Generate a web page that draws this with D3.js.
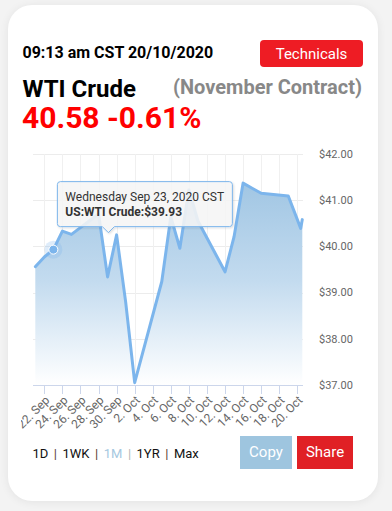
<!DOCTYPE html>
<html>
<head>
<meta charset="utf-8">
<script src="https://cdn.jsdelivr.net/npm/d3@7"></script>
<style>
  html, body { margin: 0; padding: 0; }
  body { width: 392px; height: 511px; background: #f3f3f3; position: relative; overflow: hidden; font-family: Roboto, "Noto Sans", sans-serif; }
  .card { position: absolute; left: 8px; top: 5px; width: 370px; height: 496px; background: #fff; border-radius: 24px; box-shadow: 0 1px 10px rgba(0,0,0,0.07); }
  svg { position: absolute; left: 0; top: 0; }
</style>
</head>
<body>
<div class="card"></div>
<svg id="chart" width="392" height="511"></svg>
<script>
// WTI crude, November contract — daily settlements plus intraday points for 20 Oct
const dates = [
  "2020-09-21T00:00Z", "2020-09-22T00:00Z", "2020-09-23T00:00Z", "2020-09-24T00:00Z",
  "2020-09-25T00:00Z", "2020-09-28T00:00Z", "2020-09-29T00:00Z", "2020-09-30T00:00Z",
  "2020-10-01T00:00Z", "2020-10-02T00:00Z", "2020-10-05T00:00Z", "2020-10-06T00:00Z",
  "2020-10-07T00:00Z", "2020-10-08T00:00Z", "2020-10-09T00:00Z", "2020-10-12T00:00Z",
  "2020-10-13T00:00Z", "2020-10-14T00:00Z", "2020-10-15T00:00Z", "2020-10-16T00:00Z",
  "2020-10-19T00:00Z", "2020-10-20T09:00Z", "2020-10-20T13:15Z"
];
const prices = [
  39.56, 39.77, 39.93, 40.33,
  40.26, 40.70, 39.34, 40.25,
  38.80, 37.05, 39.24, 40.64,
  39.96, 41.22, 40.55, 39.45,
  40.21, 41.37, 41.26, 41.15,
  41.09, 40.39, 40.58
];
const xTickDates = [
  "2020-09-22", "2020-09-24", "2020-09-26", "2020-09-28", "2020-09-30",
  "2020-10-02", "2020-10-04", "2020-10-06", "2020-10-08", "2020-10-10",
  "2020-10-12", "2020-10-14", "2020-10-16", "2020-10-18", "2020-10-20"
];
const yTicks = [37, 38, 39, 40, 41, 42];
const ranges = ["1D", "1WK", "1M", "1YR", "Max"];
const activeRange = "1M";
const hoverIndex = 2;
const hoverDay = "Wednesday Sep 23, 2020 CST";
const seriesName = "US:WTI Crude";

const data = dates.map((d, i) => ({ t: new Date(d), v: prices[i] }));
const svg = d3.select("#chart");

// ---- header ----
svg.append("text").attr("x", 22.5).attr("y", 57.5)
  .attr("font-size", 16).attr("font-weight", 700).attr("fill", "#000")
  .text("09:13 am CST 20/10/2020");

svg.append("rect").attr("x", 260).attr("y", 40).attr("width", 103).attr("height", 27)
  .attr("rx", 4).attr("fill", "#ee1c24");
svg.append("text").attr("x", 311.5).attr("y", 58.5).attr("text-anchor", "middle")
  .attr("font-size", 15).attr("fill", "#fff").text("Technicals");

svg.append("text").attr("x", 22.5).attr("y", 96.5)
  .attr("font-size", 24).attr("font-weight", 700).attr("fill", "#000").text("WTI Crude");
svg.append("text").attr("x", 362).attr("y", 94).attr("text-anchor", "end")
  .attr("font-size", 20).attr("font-weight", 700).attr("fill", "#888").text("(November Contract)");
svg.append("text").attr("x", 22).attr("y", 127.5)
  .attr("font-size", 30).attr("font-weight", 700).attr("fill", "#ff0000")
  .text(prices[prices.length - 1].toFixed(2) + " -0.61%");

// ---- chart ----
const plot = { left: 33, right: 303, top: 154, bottom: 385 };
const x = d3.scaleUtc()
  .domain([data[0].t, data[data.length - 1].t])
  .range([35.3, 302.3]);
const y = d3.scaleLinear().domain([37, 42]).range([plot.bottom, plot.top]);

const defs = svg.append("defs");
const grad = defs.append("linearGradient").attr("id", "areaFill")
  .attr("gradientUnits", "userSpaceOnUse")
  .attr("x1", 0).attr("x2", 0).attr("y1", plot.top).attr("y2", plot.bottom);
grad.append("stop").attr("offset", 0).attr("stop-color", "#97c0e0");
grad.append("stop").attr("offset", 0.55).attr("stop-color", "#c3dbef");
grad.append("stop").attr("offset", 1).attr("stop-color", "#ffffff");

defs.append("clipPath").attr("id", "labelClip")
  .append("rect").attr("x", 21).attr("y", 380).attr("width", 340).attr("height", 60);

const shadow = defs.append("filter").attr("id", "tipShadow")
  .attr("x", "-10%").attr("y", "-20%").attr("width", "120%").attr("height", "150%");
shadow.append("feDropShadow").attr("dx", 1).attr("dy", 1).attr("stdDeviation", 1.2)
  .attr("flood-color", "#000").attr("flood-opacity", 0.15);

// grid
const tickTimes = xTickDates.map(d => new Date(d + "T00:00Z"));
svg.append("g").selectAll("line").data(yTicks).join("line")
  .attr("x1", plot.left).attr("x2", plot.right)
  .attr("y1", d => Math.round(y(d)) + 0.5).attr("y2", d => Math.round(y(d)) + 0.5)
  .attr("stroke", "#ececec").attr("stroke-width", 1);
svg.append("g").selectAll("line").data(tickTimes).join("line")
  .attr("x1", d => Math.round(x(d)) + 0.5).attr("x2", d => Math.round(x(d)) + 0.5)
  .attr("y1", plot.top).attr("y2", plot.bottom)
  .attr("stroke", "#f0f0f0").attr("stroke-width", 1);

// area + line
const area = d3.area().x(d => x(d.t)).y0(plot.bottom).y1(d => y(d.v));
const line = d3.line().x(d => x(d.t)).y(d => y(d.v));
svg.append("path").datum(data).attr("d", area).attr("fill", "url(#areaFill)");
svg.append("path").datum(data).attr("d", line).attr("fill", "none")
  .attr("stroke", "#7cb5ec").attr("stroke-width", 3)
  .attr("stroke-linejoin", "round").attr("stroke-linecap", "round");

// x axis
const xAxisG = svg.append("g").attr("transform", `translate(0,${plot.bottom})`);
xAxisG.append("line").attr("x1", plot.left).attr("x2", plot.right)
  .attr("y1", 0.5).attr("y2", 0.5).attr("stroke", "#ccd6eb");
xAxisG.selectAll("line.tick").data(tickTimes).join("line").attr("class", "tick")
  .attr("x1", d => Math.round(x(d)) + 0.5).attr("x2", d => Math.round(x(d)) + 0.5)
  .attr("y1", 0).attr("y2", 9).attr("stroke", "#ccd6eb");
const fmt = d3.utcFormat("%-d. %b");
svg.append("g").attr("clip-path", "url(#labelClip)")
  .selectAll("text").data(tickTimes).join("text")
  .attr("transform", d => `translate(${x(d) + 6},${plot.bottom + 16}) rotate(-45)`)
  .attr("text-anchor", "end").attr("font-size", 12).attr("fill", "#666")
  .text(d => fmt(d));

// y axis labels (right side)
svg.append("g").selectAll("text").data(yTicks).join("text")
  .attr("x", 319).attr("y", d => y(d)).attr("dy", "0.35em")
  .attr("font-size", 11).attr("fill", "#666")
  .text(d => "$" + d.toFixed(2));

// hover marker
const hp = data[hoverIndex];
svg.append("circle").attr("cx", x(hp.t)).attr("cy", y(hp.v)).attr("r", 9)
  .attr("fill", "#7cb5ec").attr("fill-opacity", 0.25);
svg.append("circle").attr("cx", x(hp.t)).attr("cy", y(hp.v)).attr("r", 4.5)
  .attr("fill", "#7cb5ec").attr("stroke", "#fff").attr("stroke-width", 1);

// tooltip
const tipX = x(hp.t) + 4, tipY = y(hp.v) - 68, tipW = 175, tipH = 45;
const cx0 = tipX + 45, cxTip = tipX + 51, cx1 = tipX + 57;
const tipPath = `M${tipX + 3},${tipY} H${tipX + tipW - 3} Q${tipX + tipW},${tipY} ${tipX + tipW},${tipY + 3}
  V${tipY + tipH - 3} Q${tipX + tipW},${tipY + tipH} ${tipX + tipW - 3},${tipY + tipH}
  H${cx1} L${cxTip},${tipY + tipH + 6} L${cx0},${tipY + tipH}
  H${tipX + 3} Q${tipX},${tipY + tipH} ${tipX},${tipY + tipH - 3} V${tipY + 3} Q${tipX},${tipY} ${tipX + 3},${tipY} Z`;
svg.append("path").attr("d", tipPath)
  .attr("fill", "rgba(247,247,247,0.86)").attr("stroke", "#7cb5ec").attr("stroke-width", 1)
  .attr("filter", "url(#tipShadow)");
svg.append("text").attr("x", tipX + 8).attr("y", tipY + 19.5)
  .attr("font-size", 12).attr("fill", "#333").text(hoverDay);
svg.append("text").attr("x", tipX + 8).attr("y", tipY + 34.5)
  .attr("font-size", 12).attr("font-weight", 700).attr("fill", "#333")
  .text(`${seriesName}:$${hp.v.toFixed(2)}`);

// ---- range selector ----
const rangeG = svg.append("g");
let cursor = 32.5;
ranges.forEach((r, i) => {
  const t = rangeG.append("text").attr("x", cursor).attr("y", 457.5)
    .attr("font-size", 13).attr("fill", r === activeRange ? "#a5c8df" : "#111").text(r);
  cursor += t.node().getComputedTextLength();
  if (i < ranges.length - 1) {
    const s = rangeG.append("text").attr("x", cursor + 5.5).attr("y", 457.5)
      .attr("font-size", 13).attr("fill", r === activeRange ? "#b5b5b5" : "#5a4030").text("|");
    cursor += 5.5 + s.node().getComputedTextLength() + 5.5;
  }
});

// ---- buttons ----
svg.append("rect").attr("x", 240).attr("y", 436).attr("width", 52).attr("height", 33).attr("fill", "#9ec5df");
svg.append("text").attr("x", 266).attr("y", 456.5).attr("text-anchor", "middle")
  .attr("font-size", 15).attr("fill", "#fff").text("Copy");
svg.append("rect").attr("x", 297).attr("y", 436).attr("width", 56).attr("height", 33).attr("fill", "#e02025");
svg.append("text").attr("x", 325).attr("y", 456.5).attr("text-anchor", "middle")
  .attr("font-size", 15).attr("fill", "#fff").text("Share");
</script>
</body>
</html>
